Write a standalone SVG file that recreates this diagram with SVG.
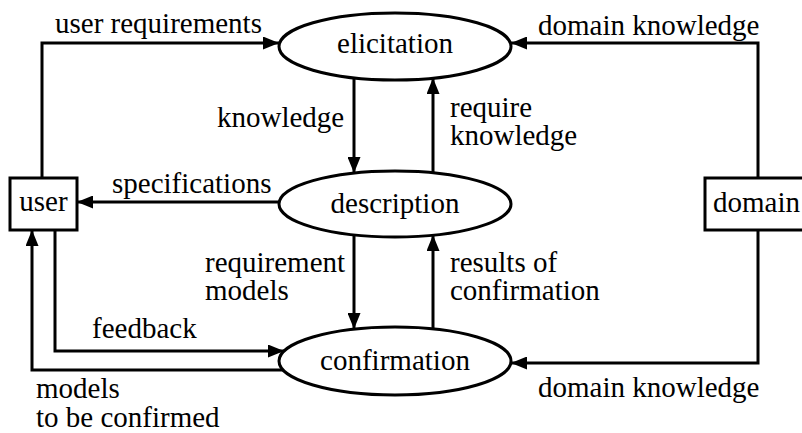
<svg xmlns="http://www.w3.org/2000/svg" width="802" height="433" viewBox="0 0 802 433">
  <style>
    text { font-family: "Liberation Serif", "Times New Roman", serif; font-size: 29px; fill: #000; }
    .mid { text-anchor: middle; }
    .node { fill: #fff; stroke: #000; stroke-width: 3; }
    .edge { fill: none; stroke: #000; stroke-width: 3; marker-end: url(#arrow); }
  </style>
  <defs>
    <marker id="arrow" markerUnits="userSpaceOnUse" markerWidth="16" markerHeight="13" refX="16" refY="6.5" orient="auto">
      <path d="M0,0 L16,6.5 L0,13 z" fill="#000"/>
    </marker>
  </defs>
  <rect width="802" height="433" fill="#fff"/>

  <!-- connectors -->
  <g id="connectors">
    <path class="edge" d="M42,178 V43 H279"/>
    <path class="edge" d="M758,178 V43 H511"/>
    <path class="edge" d="M354,78 V173"/>
    <path class="edge" d="M433,173 V78"/>
    <path class="edge" d="M279,202 H77"/>
    <path class="edge" d="M354,235 V329"/>
    <path class="edge" d="M433,329 V235"/>
    <path class="edge" d="M55,230 V351 H284"/>
    <path class="edge" d="M283,370 H32 V230"/>
    <path class="edge" d="M758,230 V363 H511"/>
  </g>

  <!-- connector labels -->
  <g id="labels">
    <text x="55" y="33">user requirements</text>
    <text x="538" y="35">domain knowledge</text>
    <text x="217" y="127">knowledge</text>
    <text x="450" y="117">require</text>
    <text x="450" y="145">knowledge</text>
    <text x="112" y="193">specifications</text>
    <text x="205" y="272">requirement</text>
    <text x="205" y="300">models</text>
    <text x="450" y="272">results of</text>
    <text x="450" y="300">confirmation</text>
    <text x="92" y="338">feedback</text>
    <text x="36" y="398">models</text>
    <text x="36" y="427">to be confirmed</text>
    <text x="538" y="397">domain knowledge</text>
  </g>

  <!-- nodes -->
  <g id="elicitation">
    <ellipse class="node" cx="395" cy="46.5" rx="116" ry="33.5"/>
    <text class="mid" x="395" y="53">elicitation</text>
  </g>
  <g id="description">
    <ellipse class="node" cx="395" cy="204" rx="116" ry="33"/>
    <text class="mid" x="395" y="213">description</text>
  </g>
  <g id="confirmation">
    <ellipse class="node" cx="395" cy="361" rx="116" ry="34"/>
    <text class="mid" x="395" y="370">confirmation</text>
  </g>
  <g id="user">
    <rect class="node" x="10" y="178" width="67" height="52"/>
    <text class="mid" x="43.5" y="211">user</text>
  </g>
  <g id="domain">
    <rect class="node" x="705" y="178" width="110" height="52"/>
    <text x="713" y="212">domain</text>
  </g>
</svg>
